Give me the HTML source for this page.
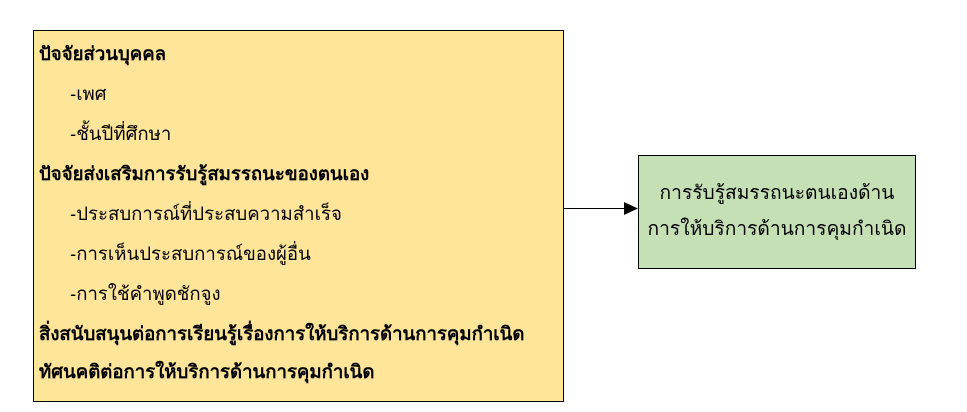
<!DOCTYPE html>
<html><head><meta charset="utf-8"><style>
body{margin:0;width:967px;height:412px;background:#fff;position:relative;overflow:hidden;font-family:"Liberation Sans","DejaVu Sans",sans-serif;color:#000}
.l{position:absolute;left:33px;top:30px;width:529px;height:370px;background:#FFE599;border:1px solid #000;box-sizing:content-box}
.t{position:absolute;font-size:18.6px;white-space:nowrap;line-height:20px}
.b{font-weight:bold}
.r{position:absolute;left:638px;top:155px;width:276px;height:112px;background:#C5E0B4;border:1px solid #000;display:flex;flex-direction:column;justify-content:center;align-items:center;font-size:19.2px;line-height:36px}
</style></head><body>
<div class="l"></div>
<div class="t b" style="left:39px;top:44px">ปัจจัยส่วนบุคคล</div>
<div class="t" style="left:70px;top:84px">-เพศ</div>
<div class="t" style="left:70px;top:124px">-ชั้นปีที่ศึกษา</div>
<div class="t b" style="left:39px;top:164px">ปัจจัยส่งเสริมการรับรู้สมรรถนะของตนเอง</div>
<div class="t" style="left:70px;top:204px">-ประสบการณ์ที่ประสบความสำเร็จ</div>
<div class="t" style="left:70px;top:244px">-การเห็นประสบการณ์ของผู้อื่น</div>
<div class="t" style="left:70px;top:284px">-การใช้คำพูดชักจูง</div>
<div class="t b" style="left:39px;top:324px">สิ่งสนับสนุนต่อการเรียนรู้เรื่องการให้บริการด้านการคุมกำเนิด</div>
<div class="t b" style="left:39px;top:362px">ทัศนคติต่อการให้บริการด้านการคุมกำเนิด</div>
<svg style="position:absolute;left:0;top:0" width="967" height="412">
<line x1="563" y1="208.5" x2="626" y2="208.5" stroke="#000" stroke-width="1"/>
<polygon points="624,202 638,208.5 624,215" fill="#000"/>
</svg>
<div class="r"><div>การรับรู้สมรรถนะตนเองด้าน</div><div>การให้บริการด้านการคุมกำเนิด</div></div>
</body></html>
